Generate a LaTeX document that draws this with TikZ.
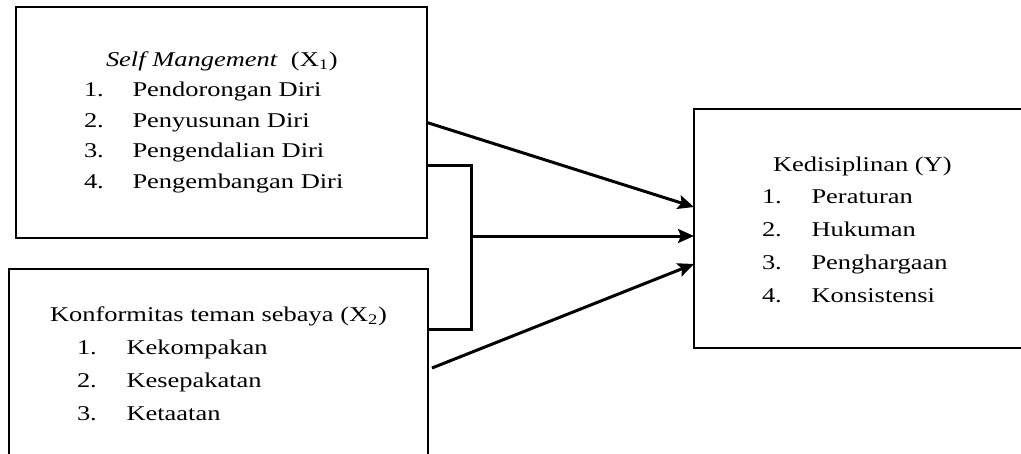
\documentclass[tikz,border=0pt]{standalone}
\usepackage{graphicx}
\usepackage{fontspec}
\setmainfont{Liberation Serif}
\usetikzlibrary{arrows.meta}
\newcommand{\widetxt}[1]{\scalebox{1.26}[1]{#1}}
\begin{document}
\begin{tikzpicture}[x=1pt,y=-1pt,
  box/.style={draw, line width=2pt, inner sep=0pt, outer sep=0pt},
  lbl/.style={anchor=base west, inner sep=0pt, outer sep=0pt, font=\fontsize{21}{25}\selectfont},
  conn/.style={line width=3pt},
  arr/.style={conn, -{Stealth[length=16pt,width=14pt,inset=3pt]}}]
\useasboundingbox (0,0) rectangle (1021,453);
\clip (0,0) rectangle (1021,453);
% boxes
\node[box, minimum width=411pt, minimum height=231pt] (x1) at (221.5,122.5) {};
\node[box, minimum width=419pt, minimum height=198pt] (x2) at (218.5,368) {};
\node[box, minimum width=346pt, minimum height=239pt] (y) at (867,228.5) {};
% texts box 1
\node[lbl] (t1) at (106,66) {\widetxt{\textit{Self Mangement}~~(X\textsubscript{1})}};
\node[lbl] (n11) at (84,96.5) {\widetxt{1.}};
\node[lbl] (i11) at (132.5,96.5) {\widetxt{Pendorongan Diri}};
\node[lbl] (n12) at (84,127) {\widetxt{2.}};
\node[lbl] (i12) at (132.5,127) {\widetxt{Penyusunan Diri}};
\node[lbl] (n13) at (84,157.5) {\widetxt{3.}};
\node[lbl] (i13) at (132.5,157.5) {\widetxt{Pengendalian Diri}};
\node[lbl] (n14) at (84,188) {\widetxt{4.}};
\node[lbl] (i14) at (132.5,188) {\widetxt{Pengembangan Diri}};
% texts box 2
\node[lbl] (t2) at (50,321) {\widetxt{Konformitas teman sebaya (X\textsubscript{2})}};
\node[lbl] (n21) at (77,354) {\widetxt{1.}};
\node[lbl] (i21) at (126.5,354) {\widetxt{Kekompakan}};
\node[lbl] (n22) at (77,387) {\widetxt{2.}};
\node[lbl] (i22) at (126.5,387) {\widetxt{Kesepakatan}};
\node[lbl] (n23) at (77,420) {\widetxt{3.}};
\node[lbl] (i23) at (126.5,420) {\widetxt{Ketaatan}};
% texts box Y
\node[lbl] (t3) at (773,171) {\widetxt{Kedisiplinan (Y)}};
\node[lbl] (n31) at (762,203.5) {\widetxt{1.}};
\node[lbl] (i31) at (811.5,203.5) {\widetxt{Peraturan}};
\node[lbl] (n32) at (762,236.5) {\widetxt{2.}};
\node[lbl] (i32) at (811.5,236.5) {\widetxt{Hukuman}};
\node[lbl] (n33) at (762,269.5) {\widetxt{3.}};
\node[lbl] (i33) at (811.5,269.5) {\widetxt{Penghargaan}};
\node[lbl] (n34) at (762,302.5) {\widetxt{4.}};
\node[lbl] (i34) at (811.5,302.5) {\widetxt{Konsistensi}};
% helper coordinates
\coordinate (bt) at (471,165);
\coordinate (bb) at (471,329);
\coordinate (bm) at (471,236);
\coordinate (e1) at (694,207);
\coordinate (e3) at (694,264);
\coordinate (s3) at (432,368);
% connectors
\draw[arr] (x1.east) -- (y.west |- e1);
\draw[conn, line join=miter] (x1.east |- bt) -- (bt) -- (bb) -- (x2.east |- bb);
\draw[arr] (bm) -- (y.west |- bm);
\draw[arr] (s3) -- (y.west |- e3);
\end{tikzpicture}
\end{document}
